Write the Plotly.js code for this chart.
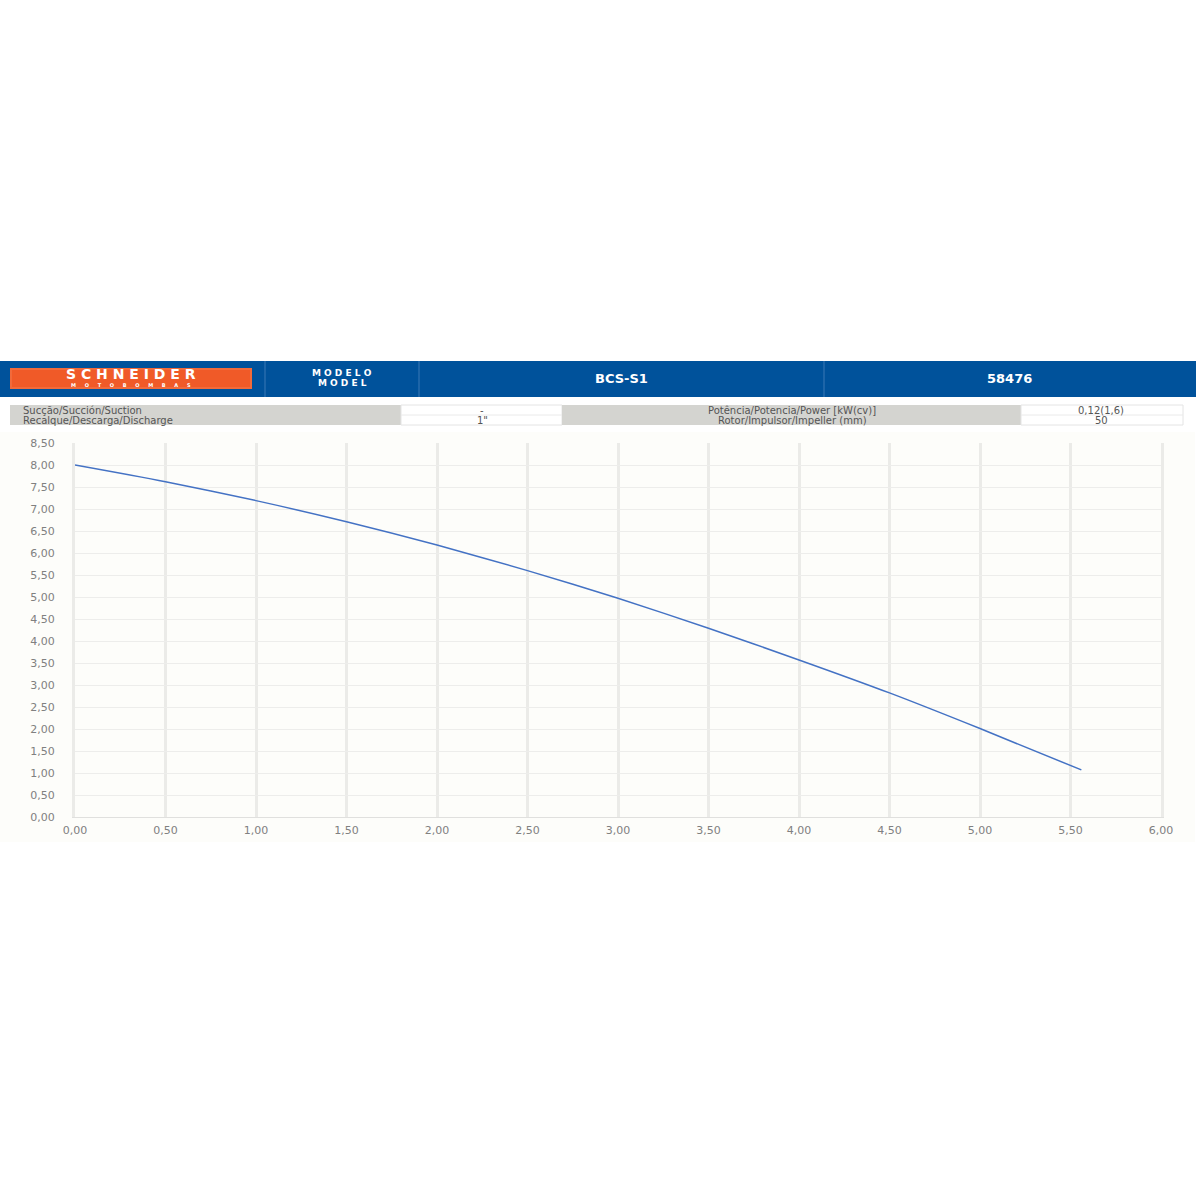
<!DOCTYPE html>
<html>
<head>
<meta charset="utf-8">
<script src="https://cdn.plot.ly/plotly-3.0.1.min.js"></script>
<style>
html,body{margin:0;padding:0;background:#fff;}
#chart{width:1200px;height:1200px;}
</style>
</head>
<body>
<div id="chart"></div>
<script>
// Flow (m³/h) vs head (m) curve
const flow = [0, 0.5, 1.0, 1.5, 2.0, 2.5, 3.0, 3.5, 4.0, 4.5, 5.0, 5.56];
const head = [8.00, 7.62, 7.19, 6.71, 6.18, 5.60, 4.97, 4.29, 3.57, 2.82, 2.01, 1.07];

const xTicks = [0, 0.5, 1, 1.5, 2, 2.5, 3, 3.5, 4, 4.5, 5, 5.5, 6];
const yTicks = [0, 0.5, 1, 1.5, 2, 2.5, 3, 3.5, 4, 4.5, 5, 5.5, 6, 6.5, 7, 7.5, 8, 8.5];

const headerLabels = ["MODELO", "MODEL", "BCS-S1", "58476"];
const brand = ["SCHNEIDER", "MOTOBOMBAS"];
const rowLabels = ["Sucção/Succión/Suction", "Recalque/Descarga/Discharge"];
const rowValues = ["-", "1\""];
const specLabels = ["Potência/Potencia/Power [kW(cv)]", "Rotor/Impulsor/Impeller (mm)"];
const specValues = ["0,12(1,6)", "50"];

// pixel -> paper helpers (plot area: x 75..1161, y 443..817)
const L = 75, R = 1161, T = 443, B = 817;
const px = v => (v - L) / (R - L);
const py = v => (B - v) / (B - T);
const spaced = (s, n) => s.split("").join("&nbsp;".repeat(n));

const blue = "#00529b";
const shapes = [
  {type:"rect", xref:"paper", yref:"paper", x0:px(0), x1:px(1195), y0:py(432), y1:py(842), fillcolor:"#fdfdfa", line:{width:0}, layer:"below"},
  {type:"rect", xref:"paper", yref:"paper", x0:px(0), x1:px(1196), y0:py(361), y1:py(397), fillcolor:blue, line:{width:0}},
  {type:"line", xref:"paper", yref:"paper", x0:px(265), x1:px(265), y0:py(361), y1:py(397), line:{color:"#3a78b5", width:1}},
  {type:"line", xref:"paper", yref:"paper", x0:px(419), x1:px(419), y0:py(361), y1:py(397), line:{color:"#3a78b5", width:1}},
  {type:"line", xref:"paper", yref:"paper", x0:px(824), x1:px(824), y0:py(361), y1:py(397), line:{color:"#3a78b5", width:1}},
  {type:"rect", xref:"paper", yref:"paper", x0:px(11), x1:px(251), y0:py(369), y1:py(388), fillcolor:"#f05a28", line:{color:"#f26a3a", width:2}},
  {type:"rect", xref:"paper", yref:"paper", x0:px(10), x1:px(401), y0:py(405), y1:py(425), fillcolor:"#d4d4d0", line:{width:0}},
  {type:"rect", xref:"paper", yref:"paper", x0:px(401), x1:px(562), y0:py(405), y1:py(425), fillcolor:"#ffffff", line:{color:"#e4e4e4", width:1}},
  {type:"rect", xref:"paper", yref:"paper", x0:px(562), x1:px(1021), y0:py(405), y1:py(425), fillcolor:"#d4d4d0", line:{width:0}},
  {type:"rect", xref:"paper", yref:"paper", x0:px(1021), x1:px(1183), y0:py(405), y1:py(425), fillcolor:"#ffffff", line:{color:"#e4e4e4", width:1}},
  {type:"line", xref:"paper", yref:"paper", x0:px(401), x1:px(562), y0:py(415), y1:py(415), line:{color:"#eaeaea", width:1}},
  {type:"line", xref:"paper", yref:"paper", x0:px(1021), x1:px(1183), y0:py(415), y1:py(415), line:{color:"#eaeaea", width:1}}
];

const txtFont = {family:"DejaVu Sans", size:10, color:"#555"};
const wf = (size) => ({family:"DejaVu Sans", size:size, color:"#fff"});
const ann = (x, y, text, font, xanchor) => ({xref:"paper", yref:"paper", x:px(x), y:py(y), text:text, showarrow:false, xanchor:xanchor || "center", yanchor:"middle", font:font, borderpad:0});
const annotations = [
  ann(131, 374, "<b>"+spaced(brand[0], 1)+"</b>", wf(14)),
  ann(131, 384.5, "<b>"+spaced(brand[1], 5)+"</b>", wf(5)),
  ann(342, 372.5, "<b>"+spaced(headerLabels[0], 1)+"</b>", wf(9)),
  ann(342, 383, "<b>"+spaced(headerLabels[1], 1)+"</b>", wf(9)),
  ann(621, 378, "<b>"+headerLabels[2]+"</b>", wf(13)),
  ann(1009, 378, "<b>"+headerLabels[3]+"</b>", wf(13))
];
for (let i = 0; i < 2; i++) {
  const yy = 410.5 + i * 9.5;
  annotations.push(ann(22, yy, rowLabels[i], txtFont, "left"));
  annotations.push(ann(482, yy, rowValues[i], txtFont));
  annotations.push(ann(792, yy, specLabels[i], txtFont));
  annotations.push(ann(1101, yy, specValues[i], txtFont));
}

const tickFont = {family:"DejaVu Sans", size:11, color:"#808080"};

const data = [{
  x: flow, y: head, type:"scatter", mode:"lines",
  line:{color:"#4472c4", width:1.5, shape:"spline", smoothing:0.8},
  hoverinfo:"skip"
}];

const layout = {
  width:1200, height:1200,
  margin:{l:L, r:1200-R, t:T, b:1200-B, pad:0},
  paper_bgcolor:"#ffffff",
  plot_bgcolor:"#fdfdfa",
  showlegend:false,
  separators:",.",
  xaxis:{
    range:[0,6], tickvals:xTicks, tickformat:".2f",
    showgrid:true, gridcolor:"#ebebe8", gridwidth:3,
    zeroline:false, showline:true, linecolor:"#e0e0de", linewidth:1,
    ticks:"outside", ticklen:3, tickcolor:"rgba(0,0,0,0)", tickfont:tickFont, fixedrange:true
  },
  yaxis:{
    range:[0,8.5], tickvals:yTicks, tickformat:".2f",
    showgrid:true, gridcolor:"#ededeb", gridwidth:1,
    zeroline:false, showline:true, linecolor:"#ebebe8", linewidth:3, mirror:true,
    ticks:"outside", ticklen:15, tickcolor:"rgba(0,0,0,0)", tickfont:tickFont, fixedrange:true
  },
  shapes: shapes,
  annotations: annotations
};

Plotly.newPlot("chart", data, layout, {staticPlot:true, displayModeBar:false});
</script>
</body>
</html>
